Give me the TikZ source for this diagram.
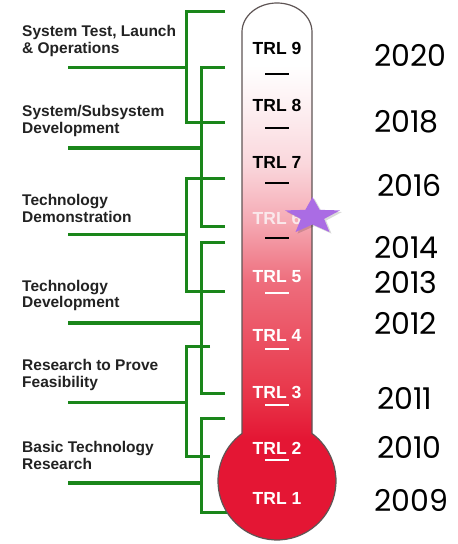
\documentclass[tikz,border=0pt]{standalone}
\usepackage{fontspec}
\setsansfont{Liberation Sans}
\newfontfamily\yearfont{Poppins}
\usetikzlibrary{calc}

\definecolor{stemgreen}{RGB}{26,134,26}
\definecolor{labelgray}{RGB}{34,34,34}
\definecolor{edgegray}{RGB}{95,85,85}
\definecolor{bulbred}{RGB}{228,22,52}
\definecolor{redthree}{RGB}{232,52,72}
\definecolor{redfive}{RGB}{238,110,125}
\definecolor{pinksix}{RGB}{245,170,180}
\definecolor{pinkseven}{RGB}{250,215,220}
\definecolor{pinkeight}{RGB}{253,240,242}
\definecolor{trlsix}{RGB}{250,232,235}
\definecolor{starpurple}{RGB}{170,108,228}

\pgfdeclareverticalshading{thermofill}{100bp}{color(0bp)=(bulbred); color(35bp)=(bulbred); color(38.8bp)=(redthree); color(49.5bp)=(redfive); color(55bp)=(pinksix); color(60.2bp)=(pinkseven); color(65.5bp)=(pinkeight); color(69.3bp)=(white); color(100bp)=(white)}

\begin{document}
\begin{tikzpicture}[
    x=1pt, y=1pt,
    phase/.style={
        anchor=west, align=left, inner sep=0pt, text=labelgray,
        font=\sffamily\bfseries\fontsize{15.5}{16.5}\selectfont
    },
    trl/.style={
        inner sep=0pt, font=\sffamily\bfseries\fontsize{17.5}{18}\selectfont
    },
    year/.style={
        anchor=west, inner sep=0pt, font=\yearfont\fontsize{30}{30}\selectfont
    },
    bracket/.style={draw=stemgreen, line width=3pt},
    trunk/.style={draw=stemgreen, line width=4.5pt},
    tick/.style={line width=1.6pt}
]
\useasboundingbox (0,0) rectangle (458,544);

% ---------------------------------------------------------------------
% 1. GREEN BRACKETS
% ---------------------------------------------------------------------
% System Test, Launch & Operations
\draw[bracket] (225,532) -- (186,532) -- (186,421) -- (225,421);
\draw[bracket] (68,476) -- (186,476);

% System/Subsystem Development
\draw[bracket] (225,476) -- (201,476) -- (201,317) -- (225,317);
\draw[trunk] (68,396) -- (201,396);

% Technology Demonstration
\draw[bracket] (225,365) -- (186,365) -- (186,252) -- (225,252);
\draw[bracket] (68,309) -- (186,309);

% Technology Development
\draw[bracket] (225,301) -- (201,301) -- (201,150) -- (225,150);
\draw[trunk] (68,221) -- (201,221);

% Research to Prove Feasibility
\draw[bracket] (210,197) -- (186,197) -- (186,87) -- (210,87);
\draw[bracket] (68,141) -- (186,141);

% Basic Technology Research
\draw[bracket] (225,125) -- (201,125) -- (201,31) -- (227,31);
\draw[trunk] (68,61) -- (201,61);

% ---------------------------------------------------------------------
% 2. PHASE LABELS
% ---------------------------------------------------------------------
\node[phase] (Ph9) at (22,503) {System Test, Launch\\\& Operations};
\node[phase] (Ph7) at (22,423) {System/Subsystem\\Development};
\node[phase] (Ph6) at (22,335.5) {Technology\\Demonstration};
\node[phase] (Ph5) at (22,248.5) {Technology\\Development};
\node[phase] (Ph3) at (22,169) {Research to Prove\\Feasibility};
\node[phase] (Ph1) at (22,88.5) {Basic Technology\\Research};

% ---------------------------------------------------------------------
% 3. THERMOMETER
% ---------------------------------------------------------------------
\shadedraw[shading=thermofill, draw=edgegray, line width=1.2pt]
    (242,110.5) -- (242,512)
    arc[start angle=180, end angle=0, x radius=35pt, y radius=29pt]
    -- (312,110.5)
    arc[start angle=53.6, end angle=-233.6, radius=59pt] -- cycle;

% TRL levels
\node[trl, text=black] (TRL9) at (277,496) {TRL 9};
\node[trl, text=black] (TRL8) at (277,439) {TRL 8};
\node[trl, text=black] (TRL7) at (277,382) {TRL 7};
\node[trl, text=trlsix] (TRL6) at (277,326) {TRL 6};
\node[trl, text=white] (TRL5) at (277,267) {TRL 5};
\node[trl, text=white] (TRL4) at (277,209) {TRL 4};
\node[trl, text=white] (TRL3) at (277,152) {TRL 3};
\node[trl, text=white] (TRL2) at (277,96) {TRL 2};
\node[trl, text=white] (TRL1) at (277,46) {TRL 1};

% scale marks
\draw[tick, black] (265,470) -- (289,470);
\draw[tick, black] (265,416) -- (289,416);
\draw[tick, black] (265,361) -- (289,361);
\draw[tick, black] (265,306) -- (289,306);
\draw[tick, white] (265,251) -- (289,251);
\draw[tick, white] (265,195) -- (289,195);
\draw[tick, white] (265,139) -- (289,139);
\draw[tick, white] (265,84) -- (289,84);

% current level marker
\fill[black, opacity=0.15]
    plot[samples at={0,...,9}, variable=\k]
    ({314.5+ifthenelse(mod(\k,2)==0,28.9,12.2)*cos(90+36*\k)},
     {326+ifthenelse(mod(\k,2)==0,19.35,8.1)*sin(90+36*\k)}) -- cycle;
\fill[starpurple]
    plot[samples at={0,...,9}, variable=\k]
    ({312.5+ifthenelse(mod(\k,2)==0,28.9,12.2)*cos(90+36*\k)},
     {327.6+ifthenelse(mod(\k,2)==0,19.35,8.1)*sin(90+36*\k)}) -- cycle;

% ---------------------------------------------------------------------
% 4. YEARS
% ---------------------------------------------------------------------
\node[year] (Y2020) at (374,489) {2020};
\node[year] (Y2018) at (374,422) {2018};
\node[year] (Y2016) at (377,359) {2016};
\node[year] (Y2014) at (374,297) {2014};
\node[year] (Y2013) at (374,261) {2013};
\node[year] (Y2012) at (374,221) {2012};
\node[year] (Y2011) at (377,146) {2011};
\node[year] (Y2010) at (377,97) {2010};
\node[year] (Y2009) at (374,44) {2009};

\end{tikzpicture}
\end{document}
